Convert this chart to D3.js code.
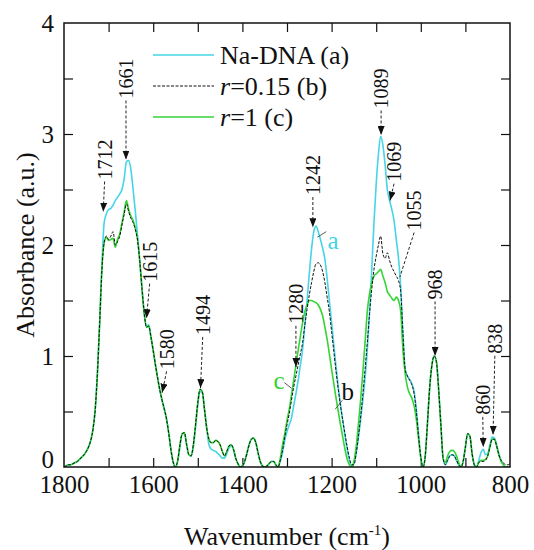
<!DOCTYPE html>
<html>
  <head>
    <meta charset="UTF-8" />
    <title>FTIR spectra</title>
    <script src="https://cdnjs.cloudflare.com/ajax/libs/d3/7.8.5/d3.min.js"></script>
    <style>
      body { margin: 0; padding: 0; background: #fff; }
      svg, svg text { font-family: "Liberation Serif", "DejaVu Serif", serif !important; }
      .tick line { stroke: #111; stroke-width: 1.2px; }
    </style>
  </head>
  <body>
    <svg id="chart" width="534" height="550"></svg>
    <script>
      // wavenumber grid (cm-1), 5 cm-1 steps, rows of 10
      const wavenumbers = [
        1800,1795,1790,1785,1780,1775,1770,1765,1760,1755,
        1750,1745,1740,1735,1730,1725,1720,1715,1710,1705,
        1700,1695,1690,1685,1680,1675,1670,1665,1660,1655,
        1650,1645,1640,1635,1630,1625,1620,1615,1610,1605,
        1600,1595,1590,1585,1580,1575,1570,1565,1560,1555,
        1550,1545,1540,1535,1530,1525,1520,1515,1510,1505,
        1500,1495,1490,1485,1480,1475,1470,1465,1460,1455,
        1450,1445,1440,1435,1430,1425,1420,1415,1410,1405,
        1400,1395,1390,1385,1380,1375,1370,1365,1360,1355,
        1350,1345,1340,1335,1330,1325,1320,1315,1310,1305,
        1300,1295,1290,1285,1280,1275,1270,1265,1260,1255,
        1250,1245,1240,1235,1230,1225,1220,1215,1210,1205,
        1200,1195,1190,1185,1180,1175,1170,1165,1160,1155,
        1150,1145,1140,1135,1130,1125,1120,1115,1110,1105,
        1100,1095,1090,1085,1080,1075,1070,1065,1060,1055,
        1050,1045,1040,1035,1030,1025,1020,1015,1010,1005,
        1000,995,990,985,980,975,970,965,960,955,
        950,945,940,935,930,925,920,915,910,905,
        900,895,890,885,880,875,870,865,860,855,
        850,845,840,835,830,825,820,815,810,805,
        800
      ];

      // Na-DNA (a)
      const naDNA = [
        0.00,0.01,0.02,0.02,0.03,0.04,0.05,0.07,0.09,0.11,
        0.14,0.18,0.24,0.34,0.52,0.85,1.30,1.82,2.20,2.28,
        2.32,2.33,2.36,2.40,2.43,2.46,2.50,2.60,2.75,2.76,
        2.68,2.50,2.30,2.08,1.85,1.60,1.38,1.26,1.28,1.17,
        1.05,0.92,0.80,0.69,0.60,0.52,0.43,0.30,0.15,0.04,
        0.00,0.05,0.18,0.30,0.30,0.20,0.11,0.10,0.18,0.36,
        0.56,0.68,0.67,0.52,0.35,0.20,0.16,0.15,0.14,0.12,
        0.10,0.08,0.08,0.12,0.17,0.19,0.16,0.08,0.03,0.00,
        0.01,0.05,0.12,0.20,0.25,0.26,0.22,0.13,0.05,0.01,
        0.00,0.01,0.03,0.05,0.05,0.02,0.00,0.05,0.13,0.24,
        0.32,0.38,0.44,0.55,0.66,0.78,0.92,1.06,1.28,1.50,
        1.74,1.96,2.12,2.17,2.12,2.05,1.97,1.87,1.70,1.50,
        1.30,1.10,0.90,0.72,0.56,0.42,0.28,0.16,0.06,0.01,
        0.03,0.12,0.26,0.42,0.60,0.80,1.05,1.38,1.78,2.20,
        2.55,2.82,2.98,2.90,2.72,2.50,2.40,2.32,2.22,2.05,
        1.88,1.62,1.20,0.88,0.82,0.79,0.75,0.68,0.52,0.30,
        0.09,0.00,0.10,0.40,0.72,0.92,1.00,0.95,0.70,0.38,
        0.08,0.02,0.06,0.10,0.11,0.10,0.06,0.02,0.00,0.05,
        0.18,0.30,0.28,0.12,0.02,0.00,0.06,0.13,0.16,0.11,
        0.12,0.20,0.27,0.26,0.20,0.12,0.06,0.02,0.00,0.00,
        0.00
      ];

      // r = 0.15 (b)
      const r015 = [
        0.00,0.01,0.02,0.02,0.03,0.04,0.05,0.07,0.09,0.11,
        0.14,0.18,0.24,0.34,0.52,0.85,1.30,1.78,2.02,2.08,
        2.05,2.08,2.12,2.00,2.03,2.08,2.18,2.28,2.37,2.30,
        2.24,2.20,2.14,2.04,1.85,1.60,1.38,1.26,1.27,1.17,
        1.05,0.92,0.80,0.69,0.60,0.52,0.43,0.30,0.15,0.04,
        0.00,0.06,0.20,0.30,0.31,0.20,0.11,0.10,0.20,0.38,
        0.58,0.70,0.68,0.52,0.35,0.25,0.22,0.22,0.24,0.23,
        0.20,0.14,0.10,0.14,0.19,0.20,0.16,0.08,0.03,0.00,
        0.01,0.05,0.12,0.20,0.25,0.26,0.22,0.13,0.05,0.01,
        0.00,0.01,0.03,0.05,0.05,0.02,0.00,0.06,0.15,0.27,
        0.38,0.48,0.60,0.72,0.82,0.92,1.02,1.12,1.28,1.42,
        1.55,1.66,1.76,1.83,1.84,1.82,1.76,1.66,1.53,1.40,
        1.22,1.04,0.86,0.70,0.55,0.42,0.30,0.18,0.08,0.02,
        0.02,0.12,0.27,0.45,0.65,0.88,1.12,1.38,1.60,1.78,
        1.90,2.00,2.08,1.92,1.88,1.93,1.86,1.80,1.76,1.72,
        1.68,1.58,1.20,0.88,0.82,0.78,0.74,0.66,0.50,0.28,
        0.09,0.00,0.10,0.40,0.72,0.92,1.00,0.95,0.70,0.38,
        0.08,0.02,0.06,0.10,0.11,0.10,0.06,0.02,0.00,0.05,
        0.18,0.30,0.28,0.12,0.02,0.00,0.04,0.05,0.05,0.06,
        0.10,0.18,0.25,0.25,0.19,0.11,0.06,0.04,0.02,0.02,
        0.03
      ];

      // r = 1 (c)
      const r1 = [
        0.00,0.01,0.02,0.02,0.03,0.04,0.05,0.07,0.09,0.11,
        0.14,0.18,0.24,0.34,0.52,0.85,1.30,1.78,2.02,2.07,
        2.04,2.05,2.06,1.98,2.05,2.10,2.20,2.30,2.40,2.32,
        2.26,2.22,2.15,2.05,1.85,1.60,1.38,1.26,1.27,1.17,
        1.05,0.92,0.80,0.69,0.60,0.52,0.43,0.30,0.15,0.04,
        0.00,0.06,0.20,0.30,0.31,0.20,0.11,0.10,0.20,0.38,
        0.58,0.70,0.68,0.52,0.35,0.25,0.22,0.22,0.24,0.23,
        0.20,0.14,0.10,0.14,0.19,0.20,0.16,0.08,0.03,0.00,
        0.01,0.05,0.12,0.20,0.25,0.26,0.22,0.13,0.05,0.01,
        0.00,0.01,0.03,0.05,0.05,0.02,0.00,0.08,0.20,0.30,
        0.42,0.52,0.65,0.78,0.92,1.05,1.18,1.30,1.40,1.46,
        1.50,1.50,1.49,1.48,1.46,1.42,1.36,1.26,1.15,1.02,
        0.88,0.75,0.62,0.50,0.38,0.27,0.16,0.07,0.02,0.00,
        0.05,0.18,0.38,0.60,0.85,1.12,1.40,1.56,1.66,1.72,
        1.74,1.76,1.78,1.72,1.66,1.58,1.55,1.52,1.50,1.53,
        1.50,1.40,1.05,0.84,0.72,0.66,0.62,0.55,0.43,0.25,
        0.08,0.00,0.10,0.40,0.72,0.92,1.00,0.95,0.70,0.38,
        0.08,0.04,0.10,0.14,0.15,0.14,0.10,0.04,0.00,0.05,
        0.18,0.30,0.28,0.12,0.02,0.00,0.04,0.06,0.06,0.07,
        0.10,0.18,0.25,0.25,0.19,0.11,0.05,0.02,0.00,0.00,
        0.00
      ];

      // peak annotations
      const annotLabels = ["1712","1661","1615","1580","1494","1280","1242","1089","1069","1055","968","860","838"];
      const annotWaves  = [1712, 1661, 1615, 1580, 1494, 1280, 1242, 1089, 1069, 1047, 968, 860, 838];
      const annotTipAbs = [2.30, 2.77, 1.34, 0.67, 0.71, 0.90, 2.16, 2.99, 2.40, 1.71, 1.00, 0.18, 0.29];
      const annotTextWaves = [1709, 1661, 1608, 1570, 1489, 1280, 1242, 1089, 1060, 1015, 968, 861, 834];
      const annotTextAbs = [2.59, 3.32, 1.67, 0.88, 1.19, 1.29, 2.45, 3.23, 2.57, 2.13, 1.51, 0.47, 1.02];
      const annotArrow = [true, true, true, true, true, true, true, true, true, false, true, true, true];

      const xTicks = [1800, 1600, 1400, 1200, 1000, 800];
      const xMinor = [1700, 1500, 1300, 1100, 900];
      const yTicks = [0, 1, 2, 3, 4];
      const yMinor = [0.5, 1.5, 2.5, 3.5];

      const seriesNames = ["Na-DNA (a)", "r=0.15 (b)", "r=1 (c)"];

      const FONT = "Liberation Serif, DejaVu Serif, serif";

      const svg = d3.select("#chart");
      const margin = {left: 64, right: 24, top: 23, bottom: 83};
      const W = 534, H = 550;

      const x = d3.scaleLinear().domain([1800, 800]).range([margin.left, W - margin.right]);
      const y = d3.scaleLinear().domain([0, 4]).range([H - margin.bottom, margin.top]);

      const cyan = "#45d5e5", green = "#35d435", black = "#111";

      const defs = svg.append("defs");
      defs.append("clipPath").attr("id", "clip")
        .append("rect")
        .attr("x", x(1800)).attr("y", y(4))
        .attr("width", x(800) - x(1800)).attr("height", y(0) - y(4));

      defs.append("marker")
        .attr("id", "arrow")
        .attr("markerUnits", "userSpaceOnUse")
        .attr("markerWidth", 9).attr("markerHeight", 7)
        .attr("refX", 9).attr("refY", 3.5)
        .attr("orient", "auto")
        .append("path").attr("d", "M0,0 L9,3.5 L0,7 Z").attr("fill", "#111");

      // axes (ticks inside)
      const yBottom = y(0), yTop = y(4), xLeft = x(1800), xRight = x(800);

      function styleAxis(g) {
        g.select(".domain").remove();
        g.attr("font-family", null).attr("font-size", 25);
        g.selectAll("text").attr("fill", "#111").style("font-family", FONT);
      }

      svg.append("g").attr("transform", `translate(0,${yBottom})`)
        .call(d3.axisBottom(x).tickValues(xTicks).tickSize(-9).tickSizeOuter(0).tickPadding(8).tickFormat(d3.format("d")))
        .call(styleAxis);
      svg.append("g").attr("transform", `translate(0,${yBottom})`)
        .call(d3.axisBottom(x).tickValues(xMinor).tickSize(-9).tickFormat(""))
        .call(styleAxis);
      svg.append("g").attr("transform", `translate(0,${yTop})`)
        .call(d3.axisTop(x).tickValues(xTicks.concat(xMinor)).tickSize(-9).tickFormat(""))
        .call(styleAxis);

      const yAxisG = svg.append("g").attr("transform", `translate(${xLeft},0)`)
        .call(d3.axisLeft(y).tickValues(yTicks).tickSize(-9).tickSizeOuter(0).tickPadding(10).tickFormat(d3.format("d")))
        .call(styleAxis);
      // lift "0" a little so it clears "1800"
      yAxisG.selectAll(".tick").filter(d => d === 0).select("text").attr("dy", "0.0em");
      svg.append("g").attr("transform", `translate(${xLeft},0)`)
        .call(d3.axisLeft(y).tickValues(yMinor).tickSize(-9).tickFormat(""))
        .call(styleAxis);
      svg.append("g").attr("transform", `translate(${xRight},0)`)
        .call(d3.axisRight(y).tickValues(yTicks.concat(yMinor)).tickSize(-9).tickFormat(""))
        .call(styleAxis);

      // hide tick marks that sit on the frame corners
      svg.selectAll(".tick").filter(d => d === 4 || d === 0 || d === 1800 || d === 800)
        .select("line").attr("stroke-opacity", 0);

      // spectra
      const line = d3.line()
        .x((d, i) => x(wavenumbers[i]))
        .y(d => y(d))
        .curve(d3.curveMonotoneX);

      const gLines = svg.append("g").attr("clip-path", "url(#clip)");
      gLines.append("path").datum(naDNA)
        .attr("d", line).attr("fill", "none").attr("stroke", cyan).attr("stroke-width", 1.6);
      gLines.append("path").datum(r1)
        .attr("d", line).attr("fill", "none").attr("stroke", green).attr("stroke-width", 1.6);
      gLines.append("path").datum(r015)
        .attr("d", line).attr("fill", "none").attr("stroke", black).attr("stroke-width", 1)
        .attr("stroke-dasharray", "3,1.5");

      // frame
      svg.append("rect")
        .attr("x", xLeft).attr("y", yTop)
        .attr("width", xRight - xLeft).attr("height", yBottom - yTop)
        .attr("fill", "none").attr("stroke", "#111").attr("stroke-width", 1.5);

      // annotations
      const gAnn = svg.append("g");
      annotLabels.forEach((lab, i) => {
        const lx = x(annotTextWaves[i]);
        const ly = y(annotTextAbs[i]);
        gAnn.append("line")
          .attr("x1", lx).attr("y1", ly + 2)
          .attr("x2", x(annotWaves[i])).attr("y2", y(annotTipAbs[i]))
          .attr("stroke", "#222").attr("stroke-width", 1)
          .attr("stroke-dasharray", "3,2")
          .attr("marker-end", annotArrow[i] ? "url(#arrow)" : null);
        gAnn.append("text")
          .attr("transform", `translate(${lx},${ly}) rotate(-90)`)
          .attr("text-anchor", "start")
          .attr("dominant-baseline", "central")
          .attr("font-size", 20)
          .attr("fill", "#111")
          .style("font-family", FONT)
          .text(lab);
      });

      // curve letters
      const letters = [
        {t: "a", c: cyan, w: 1197, a: 2.04, lw1: 1232, la1: 2.07, lw2: 1212, la2: 2.12},
        {t: "b", c: black, w: 1164, a: 0.68, lw1: 1192, la1: 0.52, lw2: 1176, la2: 0.6},
        {t: "c", c: green, w: 1318, a: 0.78, lw1: 1290, la1: 0.71, lw2: 1306, la2: 0.76}
      ];
      letters.forEach(l => {
        svg.append("line")
          .attr("x1", x(l.lw1)).attr("y1", y(l.la1))
          .attr("x2", x(l.lw2)).attr("y2", y(l.la2))
          .attr("stroke", "#333").attr("stroke-width", 0.8);
        svg.append("text")
          .attr("x", x(l.w)).attr("y", y(l.a))
          .attr("text-anchor", "middle")
          .attr("dominant-baseline", "central")
          .attr("font-size", 25)
          .attr("fill", l.c)
          .style("font-family", FONT)
          .text(l.t);
      });

      // legend
      const legColors = [cyan, black, green];
      const legDash = [null, "3,1.5", null];
      const legend = svg.append("g");
      seriesNames.forEach((name, i) => {
        const ly = 55 + i * 31;
        legend.append("line")
          .attr("x1", 153).attr("x2", 214).attr("y1", ly).attr("y2", ly)
          .attr("stroke", legColors[i]).attr("stroke-width", i === 1 ? 1 : 1.6)
          .attr("stroke-dasharray", legDash[i]);
        const t = legend.append("text")
          .attr("x", 220).attr("y", ly)
          .attr("dominant-baseline", "central")
          .attr("font-size", 26)
          .attr("fill", "#111")
          .style("font-family", FONT);
        if (name.startsWith("r=")) {
          t.append("tspan").attr("font-style", "italic").text("r");
          t.append("tspan").text(name.slice(1));
        } else {
          t.text(name);
        }
      });

      // axis titles
      const xt = svg.append("text")
        .attr("x", (xLeft + xRight) / 2).attr("y", 545)
        .attr("text-anchor", "middle")
        .attr("font-size", 26)
        .attr("fill", "#111")
        .style("font-family", FONT);
      xt.append("tspan").text("Wavenumber (cm");
      xt.append("tspan").attr("font-size", 15).attr("dy", -10).text("-1");
      xt.append("tspan").attr("dy", 10).text(")");

      svg.append("text")
        .attr("transform", `translate(25,${(yTop + yBottom) / 2}) rotate(-90)`)
        .attr("text-anchor", "middle")
        .attr("dominant-baseline", "central")
        .attr("font-size", 26)
        .attr("fill", "#111")
        .style("font-family", FONT)
        .text("Absorbance (a.u.)");
    </script>
  </body>
</html>
